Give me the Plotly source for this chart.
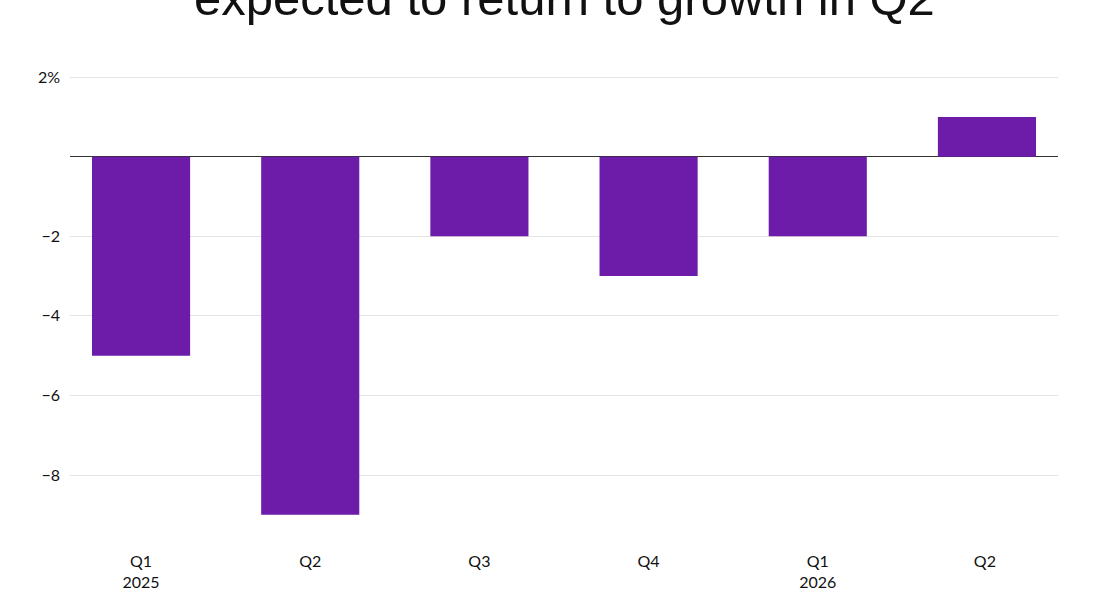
import plotly.graph_objects as go

categories = ["Q1<br>2025", "Q2", "Q3", "Q4", "Q1<br>2026", "Q2 "]
values = [-5, -9, -2, -3, -2, 1]
tick_vals = [2, -2, -4, -6, -8]
tick_text = ["2%", "\u22122", "\u22124", "\u22126", "\u22128"]
title_text = "expected to return to growth in Q2"

fig = go.Figure()
fig.add_trace(go.Bar(
    x=list(range(len(categories))),
    y=values,
    width=0.58,
    marker=dict(color="#6d1ba9", line=dict(width=0)),
    hoverinfo="skip",
))

fig.update_layout(
    width=1095, height=600,
    margin=dict(l=70, r=37, t=76, b=84),
    paper_bgcolor="white", plot_bgcolor="white",
    showlegend=False,
    font=dict(family="Lato, Inter, sans-serif", size=16, color="#111"),
    xaxis=dict(
        tickmode="array",
        tickvals=list(range(len(categories))),
        ticktext=categories,
        range=[-0.42, 5.42],
        showgrid=False, zeroline=False, showline=False,
        ticks="", ticklabelstandoff=34, automargin=False,
        fixedrange=True,
    ),
    yaxis=dict(
        range=[-9.03, 2.03],
        tickmode="array",
        tickvals=tick_vals,
        ticktext=tick_text,
        showgrid=True, gridcolor="#e4e4e4", gridwidth=1,
        zeroline=True, zerolinecolor="#333333", zerolinewidth=1.2,
        showline=False, ticks="", ticklabelstandoff=9, automargin=False,
        fixedrange=True,
    ),
    annotations=[dict(
        text=title_text, x=0.5, xref="paper", y=1.0, yref="paper",
        yanchor="bottom", xanchor="center", showarrow=False,
        yshift=49,
        font=dict(family="Liberation Sans, Arial, sans-serif", size=49, color="#111"),
    )],
)

fig.write_html("out.html")
